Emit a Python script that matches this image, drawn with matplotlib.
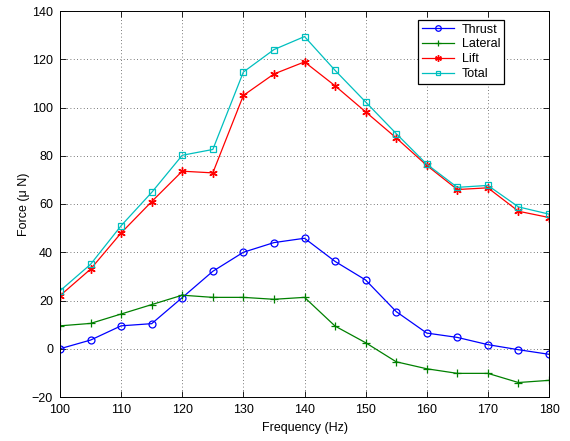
import matplotlib
matplotlib.use("Agg")
import matplotlib.pyplot as plt

freq = [100, 105, 110, 115, 120, 125, 130, 135, 140, 145, 150, 155, 160, 165, 170, 175, 180]
thrust = [0, 3.6, 9.5, 10.4, 21.2, 32.1, 40, 44, 45.8, 36.2, 28.5, 15.4, 6.5, 4.7, 1.7, -0.4, -2.3]
lateral = [9.5, 10.5, 14.4, 18.3, 22.2, 21.3, 21.3, 20.5, 21.3, 9.4, 2.5, -5.4, -8.3, -10.2, -10.2, -14, -13.1]
lift = [22, 33, 48, 61, 73.6, 72.9, 105, 113.9, 118.9, 109, 98.2, 87.4, 76, 66, 66.7, 57, 54.4]
total = [24, 35, 51, 64.8, 80.2, 82.6, 114.7, 124, 129.4, 115.4, 102.3, 89.2, 76.5, 66.9, 67.7, 58.8, 55.8]

xticks = [100, 110, 120, 130, 140, 150, 160, 170, 180]
yticks = [-20, 0, 20, 40, 60, 80, 100, 120, 140]

plt.rcParams['font.family'] = ['Liberation Sans', 'DejaVu Sans']
plt.rcParams['font.size'] = 9

fig = plt.figure(figsize=(5.7, 4.41), dpi=100)
ax = fig.add_axes([60/570, 44/441, 489/570, 386/441])

ax.plot(freq, thrust, color=(0, 0, 1), marker='o', markersize=5, mfc='none', mew=0.9, lw=0.9, label='Thrust')
ax.plot(freq, lateral, color=(0, 0.5, 0), marker='+', markersize=6, mew=0.9, lw=0.9, label='Lateral')
ax.plot(freq, lift, color=(1, 0, 0), marker=(6, 2, 0), markersize=6, mew=1.0, lw=0.9, label='Lift')
ax.plot(freq, total, color=(0, 0.75, 0.75), marker='s', markersize=4, mfc='none', mew=0.9, lw=0.9, label='Total')

ax.set_xlim(100, 180)
ax.set_ylim(-20, 140)
ax.set_xticks(xticks)
ax.set_yticks(yticks)
ax.tick_params(direction='in', top=True, right=True, length=4, width=0.6, labelsize=9, pad=5)
ax.grid(True, linestyle=(0, (1, 3)), color='0.3', lw=0.6)
for s in ax.spines.values():
    s.set_linewidth(0.7)
ax.set_xlabel('Frequency (Hz)', fontsize=9, labelpad=4)
ax.set_ylabel('Force (\u03bc N)', fontsize=9, labelpad=1)

leg = ax.legend(loc='upper right', bbox_to_anchor=(0.908, 0.977), fancybox=False,
                framealpha=1, edgecolor='black', fontsize=9, handlelength=2.6,
                borderpad=0.3, labelspacing=0.22, handletextpad=0.6, borderaxespad=0,
                markerscale=0.8)
leg.get_frame().set_linewidth(0.9)

fig.savefig('out.png', dpi=100)
